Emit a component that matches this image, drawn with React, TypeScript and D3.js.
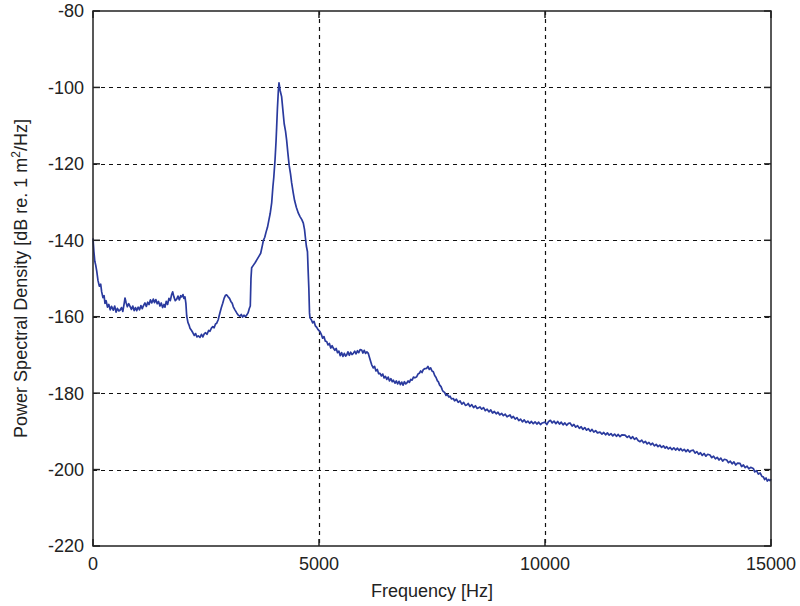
import { useEffect, useRef } from "react";
import * as d3 from "d3";

// spectrum (Hz, dB re 1 m^2/Hz)
const freqHz = [
  0, 20, 40, 60, 82, 110, 140, 170, 192, 220, 245, 265, 290, 320, 350, 380, 410, 449, 480, 510,
  540, 570, 597, 630, 660, 690, 708, 730, 760, 790, 819, 850, 880, 910, 940, 967, 1000, 1030, 1060, 1090,
  1113, 1150, 1180, 1210, 1240, 1270, 1300, 1334, 1360, 1390, 1420, 1450, 1482, 1510, 1540, 1570, 1593, 1620, 1650, 1680,
  1710, 1740, 1763, 1790, 1820, 1852, 1880, 1910, 1940, 1962, 1990, 2010, 2035, 2055, 2073, 2100, 2125, 2146, 2180, 2210,
  2240, 2270, 2300, 2330, 2367, 2400, 2430, 2460, 2490, 2520, 2560, 2588, 2620, 2650, 2680, 2710, 2737, 2770, 2790, 2810,
  2840, 2870, 2900, 2930, 2958, 2990, 3020, 3050, 3080, 3104, 3140, 3180, 3215, 3250, 3280, 3310, 3340, 3370, 3400, 3430,
  3460, 3480, 3495, 3510, 3550, 3590, 3630, 3670, 3710, 3750, 3770, 3800, 3830, 3860, 3890, 3920, 3953, 3980, 4000, 4027,
  4050, 4063, 4080, 4100, 4115, 4125, 4140, 4160, 4173, 4200, 4230, 4260, 4284, 4310, 4340, 4370, 4395, 4430, 4460, 4500,
  4543, 4580, 4620, 4653, 4680, 4700, 4720, 4745, 4760, 4775, 4790, 4801, 4830, 4860, 4890, 4920, 4950, 4980, 5022, 5050,
  5080, 5110, 5140, 5170, 5200, 5230, 5260, 5290, 5316, 5350, 5380, 5410, 5440, 5470, 5500, 5530, 5560, 5590, 5613, 5640,
  5670, 5700, 5730, 5759, 5790, 5820, 5850, 5880, 5910, 5945, 5970, 6000, 6030, 6060, 6091, 6120, 6150, 6166, 6200, 6230,
  6260, 6290, 6320, 6350, 6380, 6410, 6440, 6470, 6500, 6530, 6560, 6590, 6620, 6644, 6680, 6710, 6740, 6770, 6800, 6830,
  6860, 6890, 6920, 6940, 6970, 7000, 7030, 7060, 7090, 7120, 7162, 7190, 7220, 7250, 7280, 7310, 7340, 7383, 7410, 7440,
  7470, 7500, 7529, 7560, 7590, 7620, 7639, 7670, 7700, 7730, 7750, 7780, 7810, 7840, 7870, 7898, 7930, 7971, 8000, 8040,
  8080, 8120, 8160, 8200, 8240, 8268, 8300, 8340, 8380, 8420, 8460, 8500, 8562, 8600, 8640, 8680, 8720, 8760, 8800, 8840,
  8880, 8920, 8960, 9000, 9040, 9080, 9120, 9160, 9226, 9260, 9300, 9340, 9380, 9420, 9460, 9500, 9540, 9580, 9620, 9660,
  9700, 9740, 9780, 9820, 9860, 9900, 9940, 10000, 10040, 10080, 10120, 10160, 10200, 10240, 10280, 10320, 10360, 10400, 10440, 10480,
  10520, 10553, 10600, 10640, 10680, 10720, 10760, 10800, 10840, 10880, 10920, 10960, 11000, 11040, 11080, 11120, 11160, 11217, 11260, 11300,
  11340, 11380, 11420, 11460, 11500, 11540, 11580, 11620, 11660, 11700, 11770, 11820, 11860, 11900, 11940, 11980, 12020, 12060, 12102, 12140,
  12180, 12220, 12260, 12300, 12340, 12380, 12420, 12460, 12500, 12540, 12580, 12620, 12660, 12692, 12730, 12770, 12810, 12850, 12890, 12930,
  12970, 13000, 13040, 13080, 13120, 13160, 13200, 13240, 13281, 13320, 13360, 13400, 13440, 13480, 13520, 13560, 13600, 13650, 13690, 13730,
  13770, 13810, 13850, 13890, 13930, 13970, 14020, 14060, 14100, 14140, 14180, 14220, 14260, 14314, 14350, 14390, 14430, 14470, 14510, 14550,
  14608, 14640, 14680, 14720, 14760, 14800, 14830, 14860, 14890, 14920, 14950, 14978, 15000,
];

const psdDb = [
  -139.5, -143, -145.5, -146.5, -148, -150.5, -152, -151.5, -153.5, -155, -154.5, -156.5, -155.8, -157.5, -156.8, -158.2, -157.3, -158.3, -157.2, -158.8,
  -157.8, -158.5, -158.3, -157.6, -158.6, -156.5, -155.1, -156.2, -157.4, -156.6, -157.3, -158.1, -157.2, -158.4, -157.6, -158.4, -157.5, -158.2, -157.1, -157.9,
  -157.2, -156.4, -157.3, -156.2, -156.8, -155.6, -156.4, -155.4, -156.3, -155.5, -156.6, -156.0, -157.2, -156.4, -157.6, -156.8, -157.5, -156.0, -156.8, -155.2,
  -155.8, -154.2, -153.5, -154.8, -155.8, -155.4, -154.6, -155.6, -154.5, -154.8, -154.2, -155.2, -154.8, -156.5, -159.8, -161.5, -162.2, -163.0, -163.6, -164.2,
  -164.9, -164.4, -165.3, -165.0, -165.4, -164.6, -165.3, -164.5, -164.2, -164.6, -163.6, -163.8, -163.0, -162.6, -162.9, -161.9, -161.7, -160.8, -159.8, -158.9,
  -157.6, -156.5, -155.2, -154.4, -154.3, -154.8, -155.2, -156.0, -156.5, -157.4, -158.2, -159.0, -159.6, -159.9, -159.4, -160.1, -159.6, -160.0, -159.6, -159.0,
  -157.8, -157.2, -150.0, -147.2, -146.5, -145.8, -145.0, -144.2, -143.4, -141.2, -140.0, -139.2, -137.8, -136.6, -134.8, -133.0, -130.2, -126.0, -123.5, -119.0,
  -114.0, -110.4, -105.5, -101.0, -98.8, -99.5, -100.8, -101.8, -102.4, -105.8, -109.5, -111.5, -113.8, -117.0, -120.4, -122.6, -125.0, -127.6, -129.6, -131.4,
  -132.9, -133.8, -134.6, -135.5, -137.2, -139.4, -141.5, -143.0, -148.0, -152.5, -159.0, -160.3, -160.8, -161.6, -161.2, -162.4, -162.8, -163.4, -163.9, -164.6,
  -165.6, -165.2, -166.4, -166.5, -167.4, -167.0, -168.2, -167.6, -168.2, -168.8, -168.3, -169.4, -169.0, -170.2, -169.4, -170.4, -169.6, -170.3, -170.0, -169.2,
  -170.1, -169.3, -169.9, -169.6, -169.0, -169.7, -168.9, -169.4, -168.6, -168.7, -169.5, -168.8, -169.6, -169.2, -169.6, -170.8, -172.0, -172.6, -173.4, -173.0,
  -174.2, -173.8, -174.9, -174.8, -175.5, -175.0, -176.0, -175.6, -176.4, -175.8, -176.8, -176.2, -177.0, -176.6, -177.4, -176.8, -177.6, -176.9, -177.8, -177.1,
  -177.9, -177.0, -177.6, -177.4, -176.8, -177.2, -176.4, -176.6, -175.8, -176.0, -175.7, -175.0, -174.8, -174.2, -174.6, -173.8, -173.6, -173.5, -173.0, -173.8,
  -173.4, -174.2, -174.4, -175.4, -175.9, -176.8, -177.0, -177.9, -178.3, -179.2, -179.6, -179.8, -180.6, -180.3, -181.0, -180.8, -181.5, -181.4, -182.0, -181.6,
  -182.4, -182.0, -182.9, -182.4, -183.2, -183.1, -182.7, -183.5, -183.0, -183.8, -183.3, -184.0, -183.6, -184.2, -183.8, -184.6, -184.2, -184.9, -184.4, -185.2,
  -184.8, -185.4, -185.0, -185.7, -185.3, -185.9, -185.5, -186.2, -185.7, -186.5, -186.1, -186.8, -186.4, -187.2, -186.8, -187.5, -187.0, -187.7, -187.3, -187.9,
  -187.4, -188.0, -187.5, -188.1, -187.6, -188.2, -187.8, -187.6, -188.2, -187.4, -187.1, -187.8, -187.3, -188.0, -187.4, -188.1, -187.6, -188.3, -187.8, -188.4,
  -187.9, -187.8, -188.6, -188.2, -188.9, -188.5, -189.2, -188.8, -189.5, -189.0, -189.7, -189.3, -190.0, -189.5, -190.2, -189.8, -190.4, -190.2, -190.7, -190.3,
  -190.9, -190.4, -191.0, -190.6, -191.2, -190.7, -191.3, -190.8, -191.4, -190.9, -191.0, -191.6, -191.2, -191.9, -191.4, -192.1, -191.7, -192.4, -192.7, -192.3,
  -193.0, -192.6, -193.3, -192.9, -193.5, -193.1, -193.8, -193.4, -194.0, -193.6, -194.2, -193.8, -194.4, -194.0, -194.6, -194.2, -194.8, -194.3, -194.9, -194.4,
  -195.0, -194.5, -195.1, -194.7, -195.3, -194.8, -195.4, -195.0, -194.9, -195.7, -195.3, -196.0, -195.6, -196.3, -195.8, -196.5, -196.0, -196.2, -196.9, -196.5,
  -197.2, -196.8, -197.5, -197.0, -197.8, -197.3, -197.5, -198.2, -197.8, -198.5, -198.0, -198.8, -198.3, -198.4, -199.2, -198.8, -199.5, -199.1, -199.8, -199.4,
  -199.7, -200.6, -200.3, -201.2, -200.9, -201.8, -201.9, -202.6, -202.2, -203.0, -202.6, -202.9, -202.5,
];

const xTicks = [0, 5000, 10000, 15000];
const yTicks = [-220, -200, -180, -160, -140, -120, -100, -80];

export default function App() {
  const svgRef = useRef(null);

  useEffect(() => {
    document.body.style.margin = "0";
    const width = 800;
    const height = 606;
    const margin = { top: 11, right: 29, bottom: 60, left: 93 };

    const svg = d3.select(svgRef.current);
    svg.selectAll("*").remove();

    const x = d3
      .scaleLinear()
      .domain([0, 15000])
      .range([margin.left, width - margin.right]);
    const y = d3
      .scaleLinear()
      .domain([-220, -80])
      .range([height - margin.bottom, margin.top]);

    const font = "'Liberation Sans', Arial, sans-serif";

    svg.append("rect").attr("width", width).attr("height", height).attr("fill", "#fff");

    // dashed grid
    const grid = svg.append("g").attr("stroke", "#111").attr("stroke-width", 1.2).attr("stroke-dasharray", "4,4");
    yTicks.slice(1, -1).forEach((t) => {
      grid
        .append("line")
        .attr("x1", x(0))
        .attr("x2", x(15000))
        .attr("y1", Math.round(y(t)) + 0.5)
        .attr("y2", Math.round(y(t)) + 0.5);
    });
    xTicks.slice(1, -1).forEach((t) => {
      grid
        .append("line")
        .attr("x1", Math.round(x(t)) + 0.5)
        .attr("x2", Math.round(x(t)) + 0.5)
        .attr("y1", y(-80))
        .attr("y2", y(-220));
    });

    // spectrum
    const line = d3
      .line()
      .x((d) => x(d[0]))
      .y((d) => y(d[1]));
    const pts = freqHz.map((f, i) => [f, psdDb[i]]);
    svg
      .append("path")
      .datum(pts)
      .attr("d", line)
      .attr("fill", "none")
      .attr("stroke", "#2a3a9e")
      .attr("stroke-width", 1.7)
      .attr("stroke-linejoin", "round");

    // axes box and inward ticks
    const box = svg.append("g").attr("stroke", "#222").attr("stroke-width", 1.5);
    box
      .append("rect")
      .attr("x", x(0))
      .attr("y", y(-80))
      .attr("width", x(15000) - x(0))
      .attr("height", y(-220) - y(-80))
      .attr("fill", "none");
    const tl = 7;
    yTicks.forEach((t) => {
      box.append("line").attr("x1", x(0)).attr("x2", x(0) + tl).attr("y1", y(t)).attr("y2", y(t));
      box.append("line").attr("x1", x(15000)).attr("x2", x(15000) - tl).attr("y1", y(t)).attr("y2", y(t));
    });
    xTicks.forEach((t) => {
      box.append("line").attr("x1", x(t)).attr("x2", x(t)).attr("y1", y(-220)).attr("y2", y(-220) - tl);
      box.append("line").attr("x1", x(t)).attr("x2", x(t)).attr("y1", y(-80)).attr("y2", y(-80) + tl);
    });

    // tick labels
    svg
      .append("g")
      .selectAll("text")
      .data(yTicks)
      .join("text")
      .attr("x", x(0) - 9)
      .attr("y", (d) => y(d))
      .attr("dy", "0.36em")
      .attr("text-anchor", "end")
      .attr("font-family", font)
      .attr("font-size", 18)
      .attr("fill", "#222")
      .text((d) => d);

    svg
      .append("g")
      .selectAll("text")
      .data(xTicks)
      .join("text")
      .attr("x", (d) => x(d))
      .attr("y", y(-220) + 24)
      .attr("text-anchor", "middle")
      .attr("font-family", font)
      .attr("font-size", 18)
      .attr("fill", "#222")
      .text((d) => d);

    // axis titles
    svg
      .append("text")
      .attr("x", (x(0) + x(15000)) / 2)
      .attr("y", 597)
      .attr("text-anchor", "middle")
      .attr("font-family", font)
      .attr("font-size", 18)
      .attr("fill", "#222")
      .text("Frequency [Hz]");

    const yl = svg
      .append("text")
      .attr("transform", `translate(27,${(y(-80) + y(-220)) / 2}) rotate(-90)`)
      .attr("text-anchor", "middle")
      .attr("font-family", font)
      .attr("font-size", 18)
      .attr("fill", "#222");
    yl.append("tspan").text("Power Spectral Density [dB re. 1 m");
    yl.append("tspan").attr("font-size", 12).attr("dy", -7).text("2");
    yl.append("tspan").attr("dy", 7).text("/Hz]");
  }, []);

  return <svg ref={svgRef} width={800} height={606} style={{ display: "block" }} />;
}
